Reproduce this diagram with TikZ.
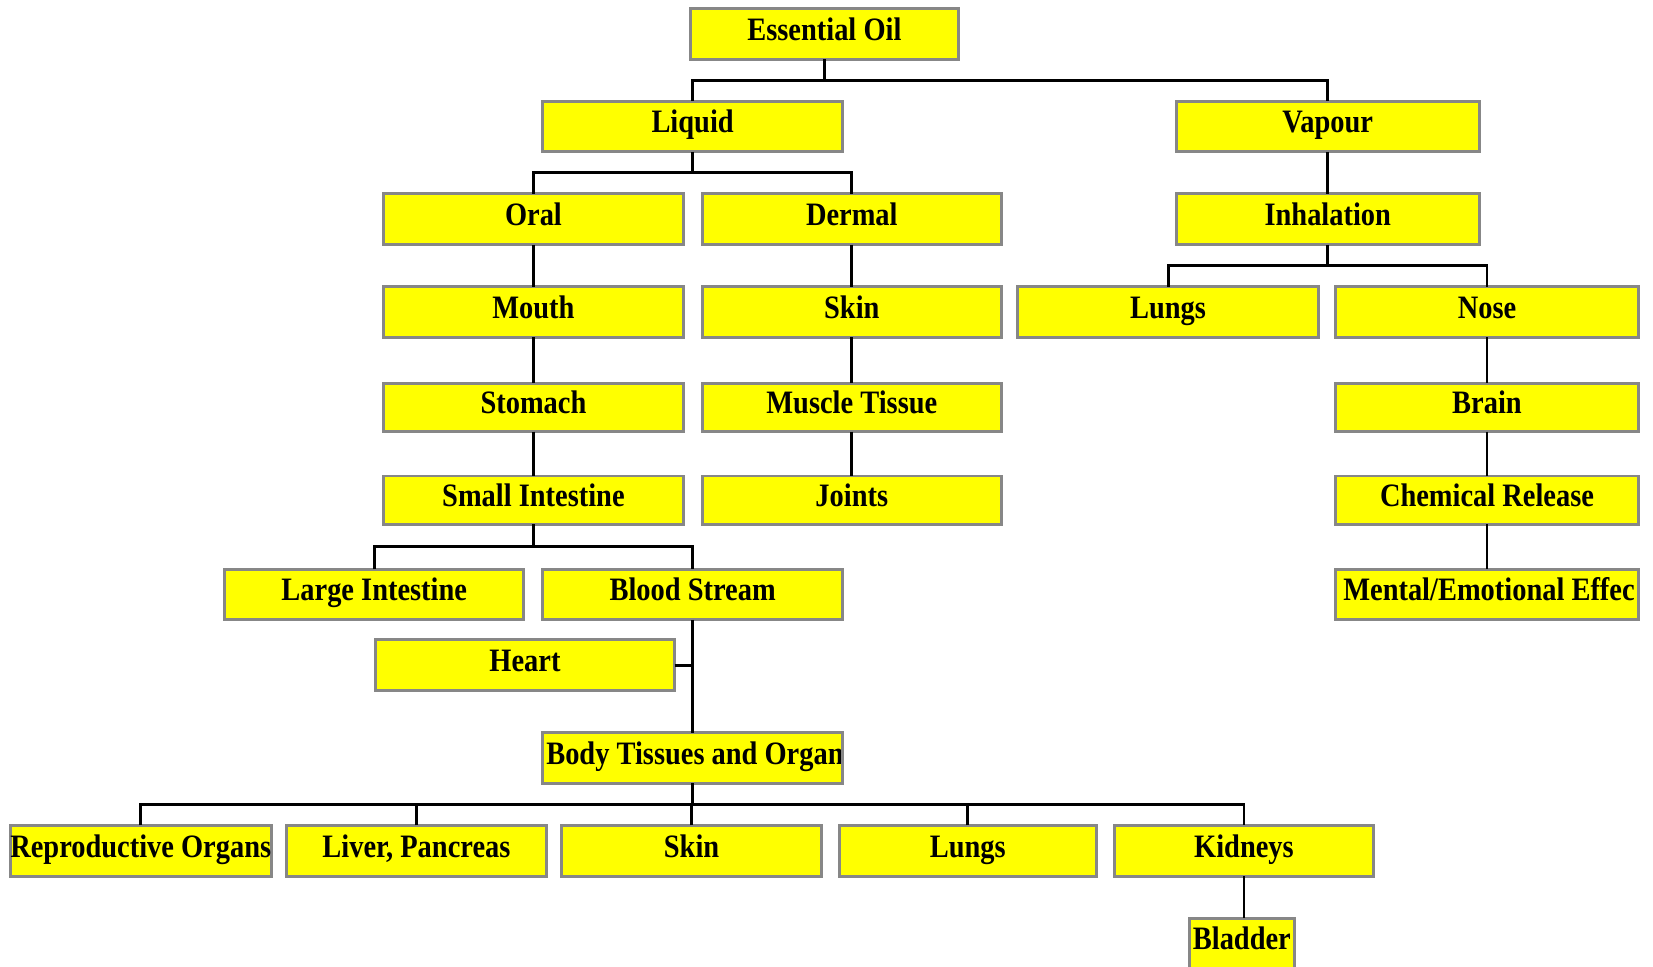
\documentclass[tikz,border=0pt]{standalone}
\usepackage{fontspec}
\newfontfamily\boxfont[FakeStretch=0.87]{Liberation Serif}
\usetikzlibrary{calc}
\definecolor{boxgray}{RGB}{135,135,135}
\definecolor{boxyellow}{RGB}{255,255,0}
\begin{document}
\begin{tikzpicture}[x=1pt,y=-1pt,
  lblfont/.style={font=\boxfont\bfseries\fontsize{31}{36}\selectfont},
  box/.style={draw=boxgray, fill=boxyellow, line width=2.8pt, inner sep=0pt, outer sep=0pt,
    minimum height=48pt, text height=20pt, text depth=8pt, lblfont},
  sbox/.style={box, minimum height=46pt},
  wA/.style={minimum width=284pt},
  wB/.style={minimum width=287pt},
  wC/.style={minimum width=246pt},
  lbl/.style={inner sep=0pt, lblfont},
  conn/.style={draw=black, line width=2.8pt}]
\useasboundingbox (0,0) rectangle (1568,917);
\clip (0,0) rectangle (1568,917);

% ---- boxes ----
\node[box, minimum width=254pt] (eo) at (782,32) {Essential Oil};
\node[box, wA] (liq) at (657,120) {Liquid};
\node[box, wB] (vap) at (1259.5,120) {Vapour};
\node[box, wA] (oral) at (506,208) {Oral};
\node[box, wA] (derm) at (808,208) {Dermal};
\node[box, wB] (inh) at (1259.5,208) {Inhalation};
\node[box, wA] (mouth) at (506,296) {Mouth};
\node[box, wA] (skin) at (808,296) {Skin};
\node[box, minimum width=286pt] (lungsA) at (1108,296) {Lungs};
\node[box, wB] (nose) at (1410.5,296) {Nose};
\node[sbox, wA] (stom) at (506,386.5) {Stomach};
\node[sbox, wA] (musc) at (808,386.5) {Muscle Tissue};
\node[sbox, wB] (brain) at (1410.5,386.5) {Brain};
\node[sbox, wA] (small) at (506,474.5) {Small Intestine};
\node[sbox, wA] (joint) at (808,474.5) {Joints};
\node[sbox, wB] (chem) at (1410.5,474.5) {Chemical Release};
\node[box, wA] (large) at (355,564) {Large Intestine};
\node[box, wA] (blood) at (657,564) {Blood Stream};
\node[box, wB] (ment) at (1410.5,564) {};
\node[box, wA] (heart) at (498,631) {Heart};
\node[box, wA] (body) at (657,719) {};
\node[box, minimum width=247pt] (repro) at (133.5,807) {Reproductive Organs};
\node[box, wC] (liver) at (395,807) {Liver, Pancreas};
\node[box, wC] (skinB) at (656,807) {Skin};
\node[box, minimum width=244pt] (lungsB) at (918,807) {Lungs};
\node[box, wC] (kid) at (1180,807) {Kidneys};
\node[box, minimum width=100pt] (blad) at (1178,895) {Bladder};

% clipped labels
\begin{scope}
  \clip (ment.south west) rectangle (ment.north east);
  \node[lbl, anchor=base west] at ($(ment.west)+(7,6)$) {Mental/Emotional Effec};
\end{scope}
\draw[boxgray, line width=2.8pt] (ment.south west) rectangle (ment.north east);
\begin{scope}
  \clip (body.south west) rectangle (body.north east);
  \node[lbl, anchor=base west] at ($(body.west)+(3,6)$) {Body Tissues and Organs};
\end{scope}
\draw[boxgray, line width=2.8pt] (body.south west) rectangle (body.north east);

% ---- connectors ----
\coordinate (b0) at ($(eo.south)!.5!(liq.north)$);
\draw[conn] (eo.south) -- (eo.south |- b0);
\draw[conn] (liq.north) |- (b0) -| (vap.north);

\coordinate (b1) at ($(liq.south)!.5!(oral.north)$);
\draw[conn] (liq.south) -- (liq.south |- b1);
\draw[conn] (oral.north) |- (b1) -| (derm.north);

\draw[conn] (vap.south) -- (inh.north);
\coordinate (b2) at ($(inh.south)!.5!(lungsA.north)$);
\draw[conn] (inh.south) -- (inh.south |- b2);
\draw[conn] (lungsA.north) |- (b2) -| (nose.north);

\draw[conn] (oral.south) -- (mouth.north);
\draw[conn] (mouth.south) -- (stom.north);
\draw[conn] (stom.south) -- (small.north);
\draw[conn] (derm.south) -- (skin.north);
\draw[conn] (skin.south) -- (musc.north);
\draw[conn] (musc.south) -- (joint.north);
\draw[conn] (nose.south) -- (brain.north);
\draw[conn] (brain.south) -- (chem.north);
\draw[conn] (chem.south) -- (ment.north);

\coordinate (b3) at ($(small.south)!.5!(large.north)$);
\draw[conn] (small.south) -- (small.south |- b3);
\draw[conn] (large.north) |- (b3) -| (blood.north);

\draw[conn] (blood.south) -- (body.north);
\draw[conn] (heart.east) -- (heart.east -| blood.south);

\coordinate (b4) at ($(body.south)!.5!(skinB.north)$);
\draw[conn] (body.south) -- (body.south |- b4);
\draw[conn] (repro.north) |- (b4) -| (kid.north);
\draw[conn] (liver.north) -- (liver.north |- b4);
\draw[conn] (skinB.north) -- (skinB.north |- b4);
\draw[conn] (lungsB.north) -- (lungsB.north |- b4);
\draw[conn] (kid.south) -- (kid.south |- blad.north);
\end{tikzpicture}
\end{document}
